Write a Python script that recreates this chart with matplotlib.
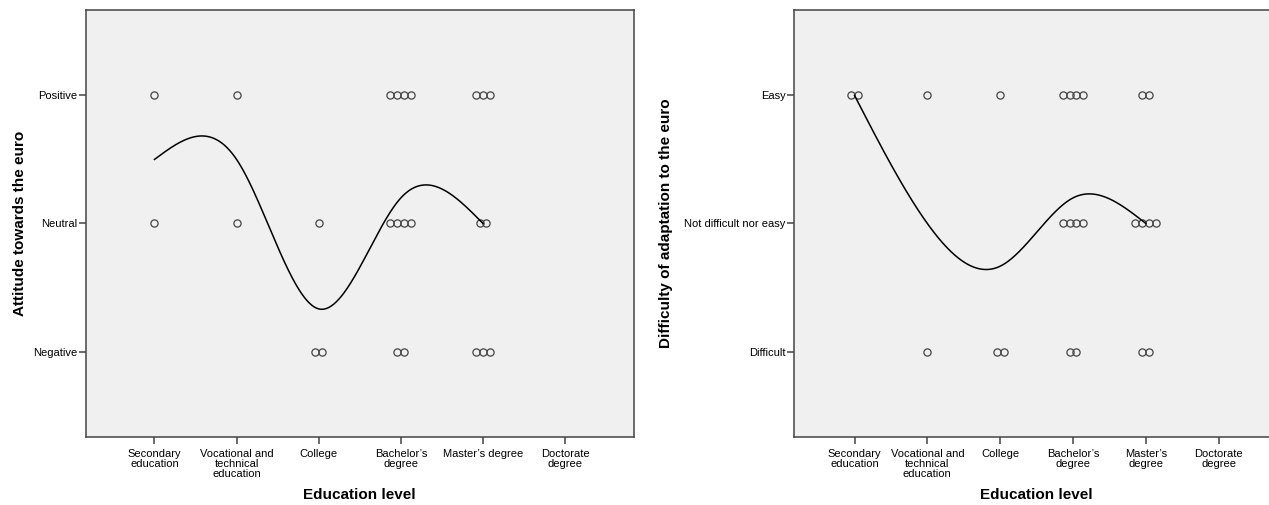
import numpy as np
import matplotlib.pyplot as plt
from matplotlib.transforms import ScaledTranslation

plt.rcParams['font.family'] = ['Liberation Sans', 'DejaVu Sans']

# education categories (x axis), coded 1..6
education_left = ['Secondary\neducation', 'Vocational and\ntechnical\neducation',
                  'College', 'Bachelor\u2019s\ndegree', 'Master\u2019s degree',
                  'Doctorate\ndegree']
education_right = ['Secondary\neducation', 'Vocational and\ntechnical\neducation',
                   'College', 'Bachelor\u2019s\ndegree', 'Master\u2019s\ndegree',
                   'Doctorate\ndegree']

# attitude towards the euro: respondents per education level
attitude_levels = ['Negative', 'Neutral', 'Positive']
att_negative = [0, 0, 2, 2, 3, 0]
att_neutral = [1, 1, 1, 4, 2, 0]
att_positive = [1, 1, 0, 4, 3, 0]

# difficulty of adaptation: respondents per education level
difficulty_levels = ['Difficult', 'Not difficult nor easy', 'Easy']
dif_difficult = [0, 1, 2, 2, 2, 0]
dif_neutral = [0, 0, 0, 4, 4, 0]
dif_easy = [2, 1, 1, 4, 2, 0]

W, H = 1269, 505
BG = '#f0f0f0'
EDGE = '#444444'


def natural_spline(xk, yk, xs):
    xk = np.asarray(xk, float)
    yk = np.asarray(yk, float)
    n = len(xk)
    h = np.diff(xk)
    A = np.zeros((n, n))
    rhs = np.zeros(n)
    A[0, 0] = A[-1, -1] = 1
    for i in range(1, n - 1):
        A[i, i - 1] = h[i - 1]
        A[i, i] = 2 * (h[i - 1] + h[i])
        A[i, i + 1] = h[i]
        rhs[i] = 6 * ((yk[i + 1] - yk[i]) / h[i] - (yk[i] - yk[i - 1]) / h[i - 1])
    M = np.linalg.solve(A, rhs)
    idx = np.clip(np.searchsorted(xk, xs) - 1, 0, n - 2)
    x0, x1 = xk[idx], xk[idx + 1]
    hh = x1 - x0
    a = (x1 - xs) / hh
    b = (xs - x0) / hh
    return (a * yk[idx] + b * yk[idx + 1]
            + ((a ** 3 - a) * M[idx] + (b ** 3 - b) * M[idx + 1]) * hh ** 2 / 6)


def draw_panel(fig, rect, xlabels, levels, counts, ylabel, ylabel_x):
    ax = fig.add_axes(rect)
    ax.set_facecolor(BG)
    cats = np.arange(1, len(xlabels) + 1)

    # circles, side by side when several respondents share a cell
    step = 5.0  # points between neighbouring circles
    for lev, cnt in enumerate(counts, start=1):
        for c, n in zip(cats, cnt):
            for k in range(n):
                dx = (k - (n - 1) / 2) * step
                tr = ax.transData + ScaledTranslation(dx / 72, 0, fig.dpi_scale_trans)
                ax.plot(c, lev, 'o', ms=5.2, mfc='none', mec=EDGE, mew=0.9,
                        transform=tr)

    # interpolation line through category means
    tot = np.sum(counts, axis=0)
    wsum = np.sum([np.array(cnt) * lev for lev, cnt in
                   enumerate(counts, start=1)], axis=0)
    has = tot > 0
    xm = cats[has]
    ym = wsum[has] / tot[has]
    xs = np.linspace(xm[0], xm[-1], 400)
    ax.plot(xs, natural_spline(xm, ym, xs), color='black', lw=1.1)

    ax.set_xlim(1 - 5 / 6, len(xlabels) + 5 / 6)
    ax.set_ylim(1 - 2 / 3, 3 + 2 / 3)
    ax.set_xticks(cats)
    ax.set_xticklabels(xlabels, fontsize=8, linespacing=1.05)
    ax.set_yticks([1, 2, 3])
    ax.set_yticklabels(levels, fontsize=8)
    ax.tick_params(direction='out', length=4.8, width=1.1, color=EDGE, pad=1.2)
    ax.tick_params(axis='x', pad=3.5)
    for s in ax.spines.values():
        s.set_color(EDGE)
        s.set_linewidth(1.1)

    ax.set_xlabel('Education level', fontsize=11, fontweight='bold')
    ax.xaxis.set_label_coords(0.5, -0.12)
    ax.set_ylabel(ylabel, fontsize=11, fontweight='bold', va='center')
    ax.yaxis.set_label_coords(ylabel_x, 0.5)
    return ax


fig = plt.figure(figsize=(W / 100, H / 100), dpi=100)
fig.patch.set_facecolor('white')

bottom = 1 - 437 / H
height = 427 / H

draw_panel(fig, [86.0 / W, bottom, 547.6 / W, height], education_left,
           attitude_levels, [att_negative, att_neutral, att_positive],
           'Attitude towards the euro', (20 - 86.0) / 547.6)

draw_panel(fig, [793.8 / W, bottom, 485.6 / W, height], education_right,
           difficulty_levels, [dif_difficult, dif_neutral, dif_easy],
           'Difficulty of adaptation to the euro', (666 - 793.8) / 485.6)

fig.savefig('out.png', dpi=100, facecolor='white')
